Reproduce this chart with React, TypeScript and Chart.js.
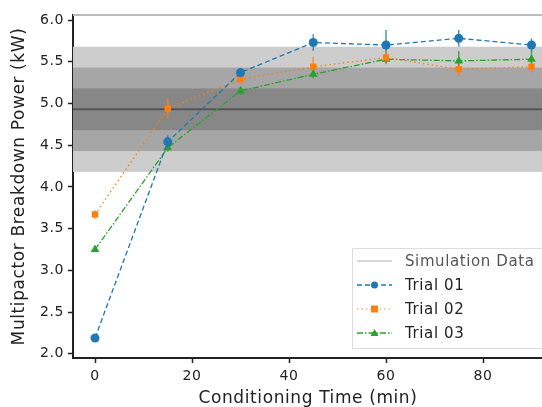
import React, { useEffect, useRef } from "react";
import { Chart, registerables } from "chart.js";

Chart.register(...registerables);

const times = [0, 15, 30, 45, 60, 75, 90];
const trial01 = [2.19, 4.54, 5.37, 5.73, 5.70, 5.78, 5.70];
const trial02 = [3.67, 4.94, 5.29, 5.44, 5.55, 5.41, 5.44];
const trial03 = [3.25, 4.47, 5.15, 5.35, 5.53, 5.51, 5.53];
const err01 = [0.03, 0.08, 0.05, 0.1, 0.18, 0.1, 0.08];
const err02 = [0.05, 0.12, 0.06, 0.12, 0.08, 0.08, 0.07];
const err03 = [0.03, 0.05, 0.05, 0.05, 0.05, 0.12, 0.1];
const simMean = 4.93;
const simBands = [0.75, 0.5, 0.25];
const yTicks = [2.0, 2.5, 3.0, 3.5, 4.0, 4.5, 5.0, 5.5, 6.0];
const xTicks = [0, 20, 40, 60, 80];
const legendLabels = ["Simulation Data", "Trial 01", "Trial 02", "Trial 03"];

const BLUE = "#1f77b4";
const ORANGE = "#ff7f0e";
const GREEN = "#2ca02c";
const FONT = "'DejaVu Sans', sans-serif";
const SPACING = "0.6px";

const errs = [err01, err02, err03];

const spacingPlugin = {
  id: "spacing",
  beforeInit(chart: any) {
    chart.ctx.letterSpacing = SPACING;
  },
  beforeLayout(chart: any) {
    chart.ctx.letterSpacing = SPACING;
  },
  beforeDraw(chart: any) {
    chart.ctx.letterSpacing = SPACING;
  },
};

const bandsPlugin = {
  id: "bands",
  beforeDatasetsDraw(chart: any) {
    const { ctx, chartArea, scales } = chart;
    const y = scales.y;
    const colors = ["#cdcdcd", "#a6a6a6", "#878787"];
    ctx.save();
    simBands.forEach((b, i) => {
      const top = y.getPixelForValue(simMean + b);
      const bot = y.getPixelForValue(simMean - b);
      ctx.fillStyle = colors[i];
      ctx.fillRect(chartArea.left, top, chartArea.right - chartArea.left, bot - top);
    });
    const my = y.getPixelForValue(simMean);
    ctx.strokeStyle = "#555555";
    ctx.lineWidth = 2;
    ctx.beginPath();
    ctx.moveTo(chartArea.left, my);
    ctx.lineTo(chartArea.right, my);
    ctx.stroke();
    // top spine
    ctx.strokeStyle = "#bbbbbb";
    ctx.lineWidth = 2;
    ctx.beginPath();
    ctx.moveTo(chartArea.left, chartArea.top);
    ctx.lineTo(chartArea.right, chartArea.top);
    ctx.stroke();
    // error bars
    chart.data.datasets.forEach((ds: any, di: number) => {
      const e = errs[di];
      ctx.strokeStyle = ds.borderColor;
      ctx.globalAlpha = 0.8;
      ctx.lineWidth = 1.5;
      ds.data.forEach((p: any, i: number) => {
        const px = scales.x.getPixelForValue(p.x);
        ctx.beginPath();
        ctx.moveTo(px, y.getPixelForValue(p.y - e[i]));
        ctx.lineTo(px, y.getPixelForValue(p.y + e[i]));
        ctx.stroke();
      });
    });
    ctx.restore();
  },
};

const legendPlugin = {
  id: "customLegend",
  afterDraw(chart: any) {
    const { ctx } = chart;
    ctx.save();
    ctx.fillStyle = "rgba(255,255,255,0.85)";
    ctx.strokeStyle = "#dddddd";
    ctx.lineWidth = 1;
    ctx.beginPath();
    ctx.rect(352.5, 248.5, 220, 100);
    ctx.fill();
    ctx.stroke();
    const ys = [261, 285, 309, 333];
    const styles = [
      { color: "#c8c8c8", dash: [] as number[], marker: "none" },
      { color: BLUE, dash: [5, 3], marker: "circle" },
      { color: ORANGE, dash: [1.5, 3], marker: "rect" },
      { color: GREEN, dash: [6, 2, 1.5, 2], marker: "triangle" },
    ];
    styles.forEach((s, i) => {
      const yy = ys[i];
      ctx.strokeStyle = s.color;
      ctx.lineWidth = 1.5;
      ctx.globalAlpha = i === 2 ? 0.6 : 1;
      ctx.setLineDash(s.dash);
      ctx.beginPath();
      ctx.moveTo(357, yy);
      ctx.lineTo(392, yy);
      ctx.stroke();
      ctx.setLineDash([]);
      ctx.globalAlpha = 1;
      ctx.fillStyle = s.color;
      if (s.marker === "circle") {
        ctx.beginPath();
        ctx.arc(374.5, yy, 3.5, 0, Math.PI * 2);
        ctx.fill();
      } else if (s.marker === "rect") {
        ctx.fillRect(371, yy - 3.5, 7, 7);
      } else if (s.marker === "triangle") {
        ctx.beginPath();
        ctx.moveTo(374.5, yy - 4);
        ctx.lineTo(378.5, yy + 3);
        ctx.lineTo(370.5, yy + 3);
        ctx.closePath();
        ctx.fill();
      }
      ctx.fillStyle = i === 0 ? "#555555" : "#222222";
      ctx.font = `15px ${FONT}`;
      ctx.letterSpacing = SPACING;
      ctx.textBaseline = "middle";
      ctx.textAlign = "left";
      ctx.fillText(legendLabels[i], 405, yy + 1);
    });
    ctx.restore();
  },
};

export default function App() {
  const ref = useRef<HTMLCanvasElement>(null);
  useEffect(() => {
    const mk = (arr: number[]) => arr.map((v, i) => ({ x: times[i], y: v }));
    const chart = new Chart(ref.current!, {
      type: "line",
      data: {
        datasets: [
          {
            label: "Trial 01",
            data: mk(trial01),
            borderColor: BLUE,
            backgroundColor: BLUE,
            borderWidth: 1.3,
            borderDash: [5, 3],
            pointStyle: "circle",
            pointRadius: 4.5,
            pointBorderWidth: 0,
          },
          {
            label: "Trial 02",
            data: mk(trial02),
            borderColor: ORANGE,
            backgroundColor: ORANGE,
            borderWidth: 1.3,
            borderDash: [1.5, 3],
            pointStyle: "rect",
            pointRadius: 4.5,
            pointBorderWidth: 0,
          },
          {
            label: "Trial 03",
            data: mk(trial03),
            borderColor: GREEN,
            backgroundColor: GREEN,
            borderWidth: 1.3,
            borderDash: [6, 2, 1.5, 2],
            pointStyle: "triangle",
            pointRadius: 5,
            pointBorderWidth: 0,
          },
        ],
      },
      options: {
        animation: false,
        responsive: false,
        layout: { padding: { top: 15, right: 0, left: 0, bottom: 0 } },
        plugins: { legend: { display: false }, tooltip: { enabled: false } },
        scales: {
          x: {
            type: "linear",
            min: -4.54,
            max: 92.37,
            afterBuildTicks: (s: any) => {
              s.ticks = xTicks.map((v) => ({ value: v }));
            },
            afterFit: (s: any) => {
              s.height = 49;
            },
            ticks: {
              color: "#222",
              font: { family: FONT, size: 14 },
              padding: 5,
              maxRotation: 0,
            },
            grid: { drawOnChartArea: false, drawTicks: true, tickLength: 5, tickColor: "#222", tickWidth: 1.5 },
            border: { color: "#222", width: 2 },
            title: {
              display: true,
              text: "Conditioning Time (min)",
              color: "#222",
              font: { family: FONT, size: 17, lineHeight: 1.0 },
              padding: { top: 0, bottom: 0 },
            },
          },
          y: {
            type: "linear",
            min: 1.95,
            max: 6.06,
            afterBuildTicks: (s: any) => {
              s.ticks = yTicks.map((v) => ({ value: v }));
            },
            afterFit: (s: any) => {
              s.width = 73;
            },
            ticks: {
              color: "#222",
              font: { family: FONT, size: 14 },
              padding: 4,
              callback: (v: any) => Number(v).toFixed(1),
            },
            grid: { drawOnChartArea: false, drawTicks: true, tickLength: 5, tickColor: "#222", tickWidth: 1.5 },
            border: { color: "#222", width: 2 },
            title: {
              display: true,
              text: "Multipactor Breakdown Power (kW)",
              color: "#222",
              font: { family: FONT, size: 17 },
              padding: { top: 9, bottom: 0 },
            },
          },
        },
      },
      plugins: [spacingPlugin, bandsPlugin, legendPlugin],
    } as any);
    return () => chart.destroy();
  }, []);
  return (
    <div style={{ position: "fixed", left: 0, top: 0, width: 542, height: 407, overflow: "hidden", background: "#fff" }}>
      <canvas ref={ref} width={548} height={407} style={{ width: 548, height: 407, display: "block" }} />
    </div>
  );
}
